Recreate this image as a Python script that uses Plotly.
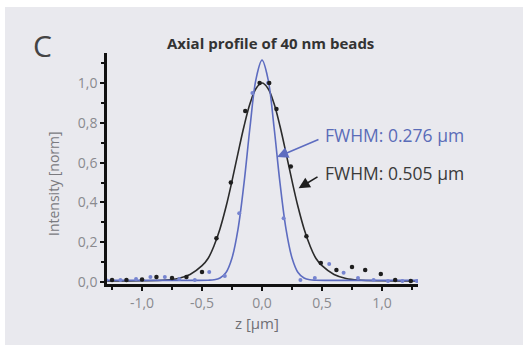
import plotly.graph_objects as go

# ---- data ----
black_z = [-1.25, -1.13, -1.00, -0.88, -0.75, -0.63, -0.50, -0.38, -0.26, -0.14, -0.02,
           0.06, 0.12, 0.24, 0.37, 0.49, 0.62, 0.75, 0.86, 0.99, 1.11, 1.24]
black_i = [0.010, 0.010, 0.012, 0.025, 0.020, 0.025, 0.050, 0.220, 0.500, 0.860, 1.000,
           1.000, 0.870, 0.580, 0.230, 0.095, 0.060, 0.075, 0.060, 0.040, 0.010, 0.005]

blue_z = [-1.30, -1.18, -1.05, -0.93, -0.81, -0.69, -0.56, -0.44, -0.31, -0.19, -0.08,
          0.05, 0.18, 0.32, 0.44, 0.56, 0.68, 0.80, 0.93, 1.05, 1.17, 1.29]
blue_i = [0.010, 0.010, 0.015, 0.025, 0.025, 0.015, 0.010, 0.050, 0.030, 0.345, 0.950,
          1.000, 0.320, 0.010, 0.020, 0.090, 0.047, 0.020, 0.010, 0.005, 0.005, 0.005]

fit_black_z = [-1.30, -1.00, -0.80, -0.70, -0.60, -0.50, -0.45, -0.40, -0.35, -0.30, -0.25,
               -0.20, -0.15, -0.10, -0.05, 0.00, 0.05, 0.10, 0.15, 0.20, 0.25, 0.30,
               0.35, 0.40, 0.45, 0.50, 0.60, 0.70, 0.80, 1.00, 1.30]
fit_black_i = [0.005, 0.006, 0.010, 0.018, 0.038, 0.082, 0.118, 0.182, 0.268, 0.378, 0.508,
               0.648, 0.783, 0.897, 0.973, 1.000, 0.973, 0.897, 0.783, 0.648, 0.508, 0.378,
               0.268, 0.182, 0.118, 0.082, 0.038, 0.018, 0.010, 0.006, 0.005]

fit_blue_z = [-1.30, -0.60, -0.45, -0.40, -0.35, -0.30, -0.25, -0.20, -0.15, -0.10, -0.05,
              0.00, 0.05, 0.10, 0.15, 0.20, 0.25, 0.30, 0.35, 0.40, 0.45, 0.60, 1.30]
fit_blue_i = [0.008, 0.008, 0.009, 0.011, 0.020, 0.048, 0.121, 0.266, 0.497, 0.779, 1.020,
              1.115, 1.020, 0.779, 0.497, 0.266, 0.121, 0.048, 0.020, 0.011, 0.009, 0.008, 0.008]

x_tickvals = [-1.0, -0.5, 0.0, 0.5, 1.0]
x_ticktext = ["-1,0", "-0,5", "0,0", "0,5", "1,0"]
y_tickvals = [0.0, 0.2, 0.4, 0.6, 0.8, 1.0]
y_ticktext = ["0,0", "0,2", "0,4", "0,6", "0,8", "1,0"]

BLUE = "#5d6cc0"
BLUE_PT = "#7684d0"
BLACK = "#1e1e1e"
GRAY = "#8a8a8f"
FONT = "Open Sans"

L, R, T, B = 107, 107, 53, 63
W, H = 525, 347
pw, ph = W - L - R, H - T - B


def px(x):
    return (x - L) / pw


def py(y):
    return (H - B - y) / ph


fig = go.Figure()
fig.add_trace(go.Scatter(x=fit_black_z, y=fit_black_i, mode="lines", line_shape="spline",
                         line=dict(color="#2b2b2b", width=1.6), hoverinfo="skip"))
fig.add_trace(go.Scatter(x=fit_blue_z, y=fit_blue_i, mode="lines", line_shape="spline",
                         line=dict(color=BLUE, width=1.6), hoverinfo="skip"))
fig.add_trace(go.Scatter(x=blue_z, y=blue_i, mode="markers",
                         marker=dict(color=BLUE_PT, size=4)))
fig.add_trace(go.Scatter(x=black_z, y=black_i, mode="markers",
                         marker=dict(color=BLACK, size=4.5)))

# panel background
fig.add_shape(type="rect", xref="paper", yref="paper", x0=px(5), x1=px(523), y0=py(345), y1=py(7),
              fillcolor="#e9e9ee", line=dict(width=0), layer="below")

annos = [
    dict(text="FWHM: 0.276 µm", x=0.508, y=0.739, color="#5a6cb8"),
    dict(text="FWHM: 0.505 µm", x=0.508, y=0.548, color="#3a3a3a"),
]
for a in annos:
    fig.add_annotation(x=a["x"], y=a["y"], xref="x", yref="y", text=a["text"], showarrow=False,
                       xanchor="left", yanchor="middle",
                       font=dict(family=FONT, size=17.5, color=a["color"]))

fig.add_annotation(x=0.125, y=0.628, ax=0.483, ay=0.719, xref="x", yref="y", axref="x", ayref="y",
                   showarrow=True, arrowhead=2, arrowsize=1.4, arrowwidth=1.6, arrowcolor=BLUE, text="")
fig.add_annotation(x=0.305, y=0.471, ax=0.475, ay=0.533, xref="x", yref="y", axref="x", ayref="y",
                   showarrow=True, arrowhead=2, arrowsize=1.4, arrowwidth=1.6, arrowcolor="#1e1e1e", text="")

# title, panel letter, axis titles (placed by pixel position)
texts = [
    dict(text="<b>Axial profile of 40 nm beads</b>", x=270, y=43, size=15, color="#333333", angle=0),
    dict(text="C", x=42, y=45, size=30, color="#444444", angle=0),
    dict(text="Intensity [norm]", x=53, y=183, size=14, color="#7a7a7f", angle=-90),
    dict(text="z [µm]", x=257, y=323, size=15, color="#6f6f74", angle=0),
]
for t in texts:
    fig.add_annotation(x=px(t["x"]), y=py(t["y"]), xref="paper", yref="paper", text=t["text"],
                       showarrow=False, xanchor="center", yanchor="middle", textangle=t["angle"],
                       font=dict(family=FONT, size=t["size"], color=t["color"]))

fig.update_layout(
    width=W, height=H,
    margin=dict(l=L, r=R, t=T, b=B),
    paper_bgcolor="white", plot_bgcolor="rgba(0,0,0,0)",
    showlegend=False, separators=",.",
    font=dict(family=FONT),
    xaxis=dict(range=[-1.292, 1.30], showgrid=False, zeroline=False,
               showline=True, linecolor="#111111", linewidth=2.5,
               ticks="outside", ticklen=4, tickwidth=1.5, tickcolor="#111111",
               tickvals=x_tickvals, ticktext=x_ticktext,
               minor=dict(dtick=0.25, ticks="outside", ticklen=3, tickcolor="#111111"),
               tickfont=dict(family=FONT, size=14, color=GRAY)),
    yaxis=dict(range=[-0.01, 1.151], showgrid=False, zeroline=False,
               showline=True, linecolor="#111111", linewidth=2.5,
               ticks="outside", ticklen=4, tickwidth=1.5, tickcolor="#111111",
               tickvals=y_tickvals, ticktext=y_ticktext,
               minor=dict(dtick=0.1, ticks="outside", ticklen=3, tickcolor="#111111"),
               tickfont=dict(family=FONT, size=14, color=GRAY)),
)

fig.write_html("out.html")
